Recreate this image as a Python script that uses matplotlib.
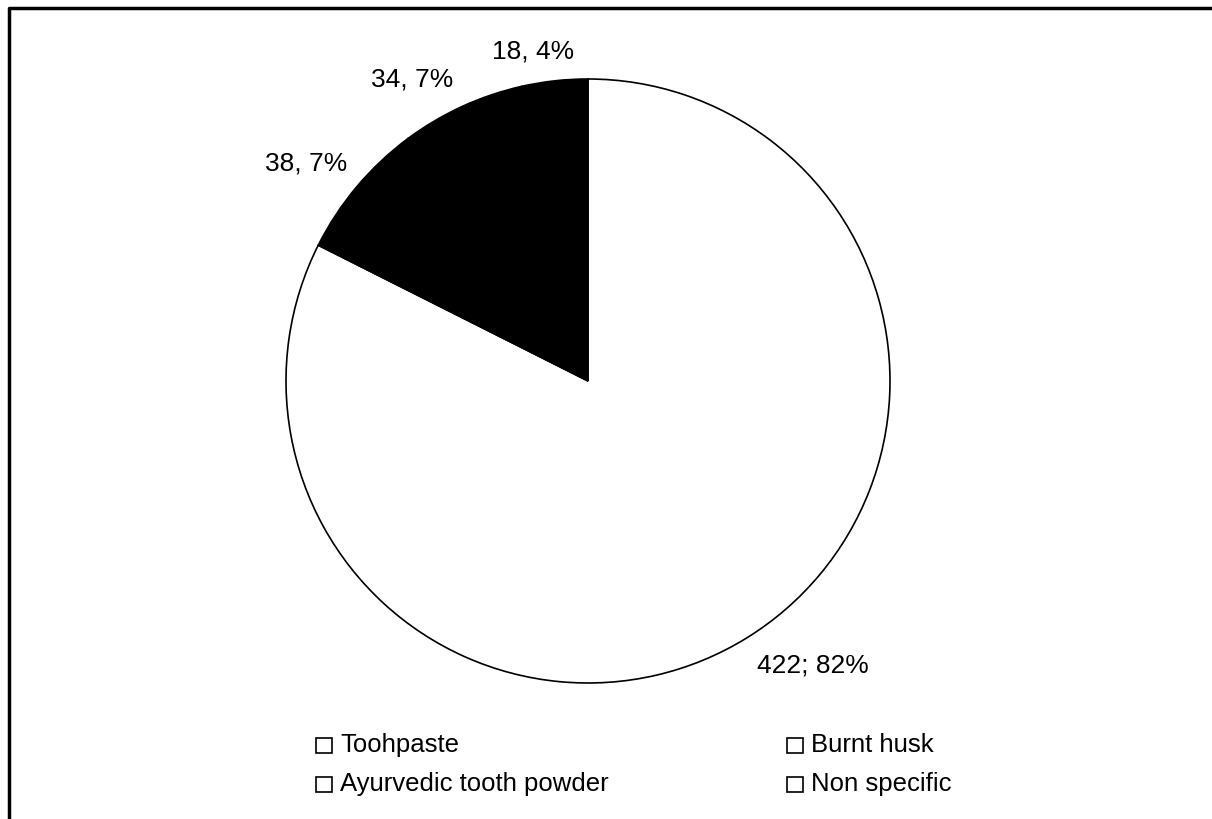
import matplotlib
matplotlib.use('Agg')

import matplotlib.pyplot as plt
from matplotlib.patches import Rectangle
from matplotlib.transforms import Bbox

plt.rcParams['font.family'] = ['Liberation Sans', 'DejaVu Sans']

# ---------- DATA ----------
categories = ["Toohpaste", "Ayurvedic tooth powder", "Burnt husk", "Non specific"]
counts = [422, 38, 34, 18]
slice_labels = ["422; 82%", "38, 7%", "34, 7%", "18, 4%"]
slice_colors = ["white", "black", "black", "black"]

# ---------- FIGURE ----------
fig = plt.figure(figsize=(12.12, 8.19), dpi=100)
ax = fig.add_axes([0, 0, 1, 1])

wedges, texts = ax.pie(
    counts,
    labels=slice_labels,
    colors=slice_colors,
    startangle=90,
    counterclock=False,
    center=(588, 438),
    radius=302,
    frame=True,
    wedgeprops=dict(edgecolor='black', linewidth=1.2),
    textprops=dict(fontsize=19),
)
ax.set_xlim(0, 1212)
ax.set_ylim(0, 819)
ax.axis('off')

# label placement as in the original
label_pos = [(813, 153), (306, 655), (412, 739), (533, 767)]
for t, (x, y) in zip(texts, label_pos):
    t.set_position((x, y))
    t.set_ha('center')
    t.set_va('center')

# ---------- LEGEND ----------
legend_pos = [(324, 74), (324, 35), (795, 74), (795, 35)]
clip = Bbox.from_bounds(0, 0, 955, 819)
for name, (x, y) in zip(categories, legend_pos):
    ax.add_patch(Rectangle((x - 8, y - 7.5), 16, 15, facecolor='white',
                           edgecolor='black', linewidth=1.2))
    txt = ax.text(x + 16, y, name, fontsize=18.5, va='center', ha='left')
    txt.set_clip_box(clip)
    txt.set_clip_on(True)

# ---------- FRAME ----------
ax.plot([9, 9, 1230], [-10, 811, 811], color='black', linewidth=2.5,
        solid_capstyle='butt', clip_on=False)

fig.savefig('out.png', dpi=100)
